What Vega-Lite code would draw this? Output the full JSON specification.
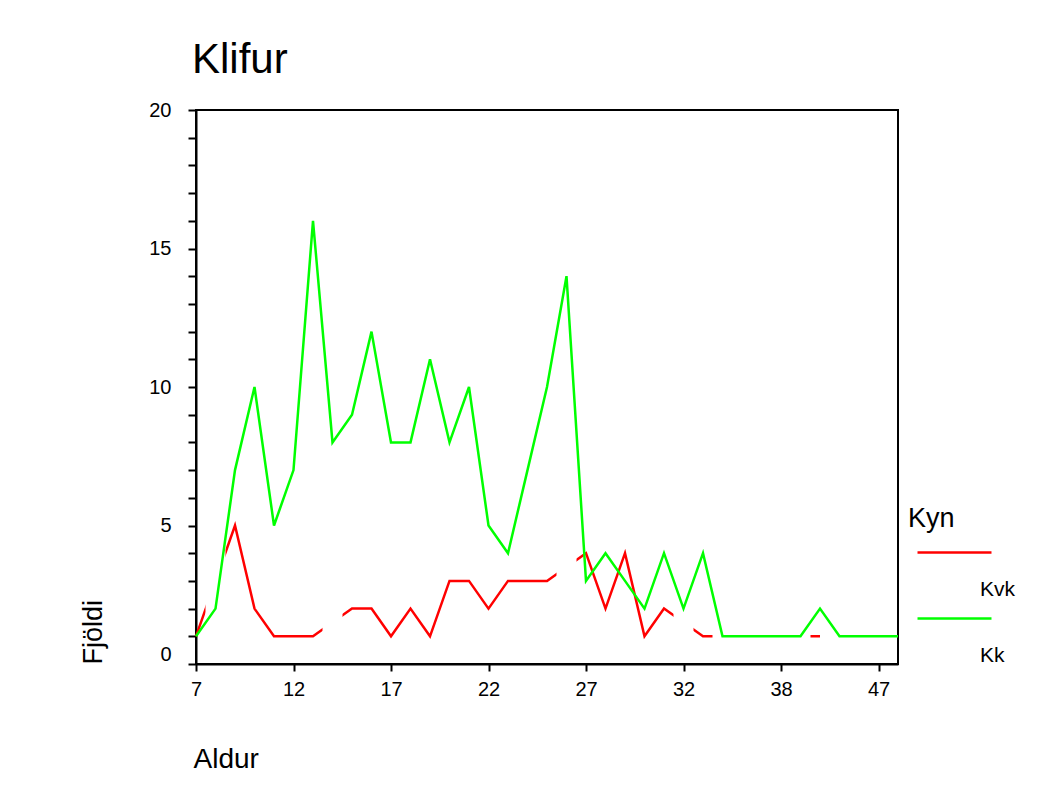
{
  "$schema": "https://vega.github.io/schema/vega-lite/v6.json",
  "width": 702,
  "height": 554,
  "autosize": {"type": "none"},
  "padding": {"left": 196, "top": 110, "right": 147, "bottom": 125},
  "background": "white",
  "title": {"text": "Klifur", "anchor": "start", "frame": "group", "fontSize": 42, "fontWeight": "normal", "color": "black", "offset": 18, "dx": -4},
  "datasets": {
    "kk": [
      {"age": 7, "fjoldi": 1}, {"age": 8, "fjoldi": 2}, {"age": 9, "fjoldi": 7}, {"age": 10, "fjoldi": 10},
      {"age": 11, "fjoldi": 5}, {"age": 12, "fjoldi": 7}, {"age": 13, "fjoldi": 16}, {"age": 14, "fjoldi": 8},
      {"age": 15, "fjoldi": 9}, {"age": 16, "fjoldi": 12}, {"age": 17, "fjoldi": 8}, {"age": 18, "fjoldi": 8},
      {"age": 19, "fjoldi": 11}, {"age": 20, "fjoldi": 8}, {"age": 21, "fjoldi": 10}, {"age": 22, "fjoldi": 5},
      {"age": 23, "fjoldi": 4}, {"age": 24, "fjoldi": 7}, {"age": 25, "fjoldi": 10}, {"age": 26, "fjoldi": 14},
      {"age": 27, "fjoldi": 3}, {"age": 28, "fjoldi": 4}, {"age": 29, "fjoldi": 3}, {"age": 30, "fjoldi": 2},
      {"age": 31, "fjoldi": 4}, {"age": 32, "fjoldi": 2}, {"age": 33, "fjoldi": 4}, {"age": 34, "fjoldi": 1},
      {"age": 35, "fjoldi": 1}, {"age": 36, "fjoldi": 1}, {"age": 38, "fjoldi": 1}, {"age": 40, "fjoldi": 1},
      {"age": 41, "fjoldi": 2}, {"age": 43, "fjoldi": 1}, {"age": 45, "fjoldi": 1}, {"age": 47, "fjoldi": 1},
      {"age": 50, "fjoldi": 1}
    ],
    "kvk": [
      {"age": 7, "fjoldi": 1}, {"age": 8, "fjoldi": null}, {"age": 9, "fjoldi": 5}, {"age": 10, "fjoldi": 2},
      {"age": 11, "fjoldi": 1}, {"age": 12, "fjoldi": 1}, {"age": 13, "fjoldi": 1}, {"age": 14, "fjoldi": null},
      {"age": 15, "fjoldi": 2}, {"age": 16, "fjoldi": 2}, {"age": 17, "fjoldi": 1}, {"age": 18, "fjoldi": 2},
      {"age": 19, "fjoldi": 1}, {"age": 20, "fjoldi": 3}, {"age": 21, "fjoldi": 3}, {"age": 22, "fjoldi": 2},
      {"age": 23, "fjoldi": 3}, {"age": 24, "fjoldi": 3}, {"age": 25, "fjoldi": 3}, {"age": 26, "fjoldi": null},
      {"age": 27, "fjoldi": 4}, {"age": 28, "fjoldi": 2}, {"age": 29, "fjoldi": 4}, {"age": 30, "fjoldi": 1},
      {"age": 31, "fjoldi": 2}, {"age": 32, "fjoldi": null}, {"age": 33, "fjoldi": 1}, {"age": 34, "fjoldi": null},
      {"age": 35, "fjoldi": null}, {"age": 36, "fjoldi": null}, {"age": 38, "fjoldi": null}, {"age": 40, "fjoldi": null},
      {"age": 41, "fjoldi": 1}
    ]
  },
  "encoding": {
    "x": {
      "field": "age", "type": "ordinal",
      "scale": {"type": "point", "padding": 0},
      "axis": {
        "title": "Aldur", "values": [7, 12, 17, 22, 27, 32, 38, 47], "labelAngle": 0,
        "tickSize": 7, "tickWidth": 2, "tickColor": "black", "domainColor": "black", "domainWidth": 2,
        "labelFontSize": 20, "labelColor": "black", "labelPadding": 8,
        "titleFontSize": 28, "titleFontWeight": "normal", "titleColor": "black",
        "titleAnchor": "start", "titleAlign": "left", "titlePadding": 46, "titleX": -3, "grid": false
      }
    }
  },
  "layer": [
    {
      "data": {"name": "kvk"},
      "transform": [{"filter": "isValid(datum.fjoldi)"}],
      "mark": {"type": "line", "strokeWidth": 2.5},
      "encoding": {
        "y": {
          "field": "fjoldi", "type": "quantitative",
          "scale": {"domain": [0, 20], "nice": false},
          "axis": {
            "title": "Fjöldi", "values": [0,1,2,3,4,5,6,7,8,9,10,11,12,13,14,15,16,17,18,19,20],
            "labelExpr": "datum.value % 5 === 0 ? datum.label : ''",
            "labelBaseline": {"condition": {"test": "datum.value === 0", "value": "bottom"}, "value": "middle"},
            "tickSize": 8, "tickWidth": 2, "tickColor": "black", "domainColor": "black", "domainWidth": 2,
            "labelFontSize": 20, "labelColor": "black", "labelPadding": 17,
            "titleFontSize": 27, "titleFontWeight": "normal", "titleColor": "black",
            "titleAnchor": "start", "titlePadding": 41, "grid": false
          }
        },
        "color": {
          "datum": "Kvk", "type": "nominal",
          "scale": {"domain": ["Kvk", "Kk"], "range": ["#ff0000", "#00ff00"]},
          "legend": {
            "title": "Kyn", "orient": "none", "legendX": 712, "legendY": 396, "padding": 0,
            "symbolType": "M-2.176,0H2.176", "symbolSize": 1156, "symbolStrokeWidth": 2.5, "symbolOffset": 28,
            "labelOffset": 7, "labelBaseline": "alphabetic",
            "labelFontSize": 21, "labelColor": "black",
            "titleFontSize": 27, "titleFontWeight": "normal", "titleColor": "black",
            "rowPadding": 0, "titlePadding": 1,
            "encode": {"labels": {"update": {"dy": {"value": 43}}}}
          }
        }
      }
    },
    {
      "data": {"name": "kvk"},
      "transform": [{"filter": "!isValid(datum.fjoldi)"}],
      "mark": {"type": "rule", "color": "white", "strokeWidth": 20, "strokeCap": "butt", "opacity": 1},
      "encoding": {
        "y": {
          "datum": 0.3, "type": "quantitative",
          "scale": {"domain": [0, 20], "nice": false},
          "axis": {
            "title": "Fjöldi", "values": [0,1,2,3,4,5,6,7,8,9,10,11,12,13,14,15,16,17,18,19,20],
            "labelExpr": "datum.value % 5 === 0 ? datum.label : ''",
            "labelBaseline": {"condition": {"test": "datum.value === 0", "value": "bottom"}, "value": "middle"},
            "tickSize": 8, "tickWidth": 2, "tickColor": "black", "domainColor": "black", "domainWidth": 2,
            "labelFontSize": 20, "labelColor": "black", "labelPadding": 17,
            "titleFontSize": 27, "titleFontWeight": "normal", "titleColor": "black",
            "titleAnchor": "start", "titlePadding": 41, "grid": false
          }
        },
        "y2": {"datum": 5.3}
      }
    },
    {
      "data": {"name": "kk"},
      "mark": {"type": "line", "strokeWidth": 2.5},
      "encoding": {
        "y": {
          "field": "fjoldi", "type": "quantitative",
          "scale": {"domain": [0, 20], "nice": false},
          "axis": {
            "title": "Fjöldi", "values": [0,1,2,3,4,5,6,7,8,9,10,11,12,13,14,15,16,17,18,19,20],
            "labelExpr": "datum.value % 5 === 0 ? datum.label : ''",
            "labelBaseline": {"condition": {"test": "datum.value === 0", "value": "bottom"}, "value": "middle"},
            "tickSize": 8, "tickWidth": 2, "tickColor": "black", "domainColor": "black", "domainWidth": 2,
            "labelFontSize": 20, "labelColor": "black", "labelPadding": 17,
            "titleFontSize": 27, "titleFontWeight": "normal", "titleColor": "black",
            "titleAnchor": "start", "titlePadding": 41, "grid": false
          }
        },
        "color": {"datum": "Kk", "type": "nominal"}
      }
    }
  ],
  "config": {
    "font": "Liberation Sans",
    "view": {"stroke": "black", "strokeWidth": 2}
  }
}
